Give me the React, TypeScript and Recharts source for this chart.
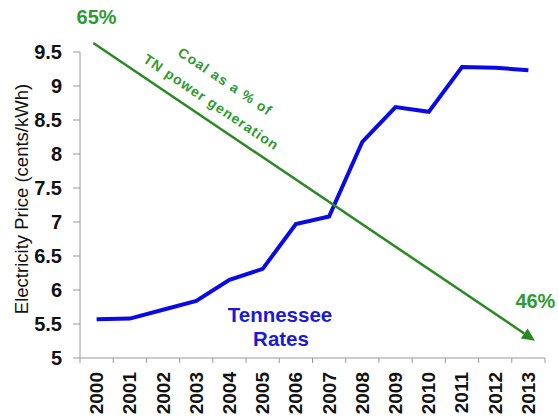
import React from 'react';
import { LineChart, Line, XAxis, YAxis, ReferenceLine } from 'recharts';

const years = ['2000', '2001', '2002', '2003', '2004', '2005', '2006', '2007', '2008', '2009', '2010', '2011', '2012', '2013'];
const tnRates = [5.57, 5.58, 5.71, 5.84, 6.15, 6.31, 6.97, 7.08, 8.18, 8.69, 8.62, 9.28, 9.27, 9.23];
const yTicks = [5, 5.5, 6, 6.5, 7, 7.5, 8, 8.5, 9, 9.5];
const coalYears = ['2000', '2013'];
const coalLabels = ['65%', '46%'];
const coalOnPriceScale = [9.6, 5.32];

const data = years.map((year, i) => ({ year, rate: tnRates[i] }));

const FONT = '"Liberation Sans", Arial, Helvetica, sans-serif';
const AXIS_COLOR = '#9a9a9a';
const BLUE = '#0a0ae6';
const GREEN_LINE = '#2a8a22';
const GREEN_TEXT = '#2f9a2f';
const TICK = 5;

const XTick = (props: any) => {
  const { x, y, payload, index, visibleTicksCount } = props;
  const half = payload && typeof payload.offset === 'number' && payload.offset > 0 ? payload.offset : 16.6;
  const axisY = y - TICK;
  const last = index === (visibleTicksCount ?? years.length) - 1;
  return (
    <g>
      <line x1={x - half} y1={axisY} x2={x - half} y2={axisY + TICK} stroke={AXIS_COLOR} strokeWidth={1} />
      {last && <line x1={x + half} y1={axisY} x2={x + half} y2={axisY + TICK} stroke={AXIS_COLOR} strokeWidth={1} />}
      <text
        x={x}
        y={axisY + 14}
        transform={`rotate(-90, ${x}, ${axisY + 14})`}
        textAnchor="end"
        dominantBaseline="central"
        fontFamily={FONT}
        fontWeight="bold"
        fontSize={19}
        fill="#111"
      >
        {payload.value}
      </text>
    </g>
  );
};

const CoalArrow = (props: any) => {
  const { x1, y1, x2, y2 } = props;
  const dx = x2 - x1;
  const dy = y2 - y1;
  const len = Math.sqrt(dx * dx + dy * dy) || 1;
  const ux = dx / len;
  const uy = dy / len;
  const nx = uy;
  const ny = -ux;
  const sx = x1 - 4 * ux;
  const sy = y1 - 4 * uy;
  const tx = x2 + 8 * ux;
  const ty = y2 + 8 * uy;
  const head = 13;
  const bx = tx - head * ux;
  const by = ty - head * uy;
  const angle = (Math.atan2(dy, dx) * 180) / Math.PI;
  const along = 131;
  const cx = sx + along * ux;
  const cy = sy + along * uy;
  const l1x = cx + 42 * nx;
  const l1y = cy + 42 * ny;
  const l2x = cx + 17 * nx;
  const l2y = cy + 17 * ny;
  return (
    <g>
      <line x1={sx} y1={sy} x2={bx} y2={by} stroke={GREEN_LINE} strokeWidth={2.5} />
      <polygon
        points={`${tx},${ty} ${bx + 6 * nx},${by + 6 * ny} ${bx - 6 * nx},${by - 6 * ny}`}
        fill={GREEN_LINE}
      />
      <text x={x1} y={y1 - 21} textAnchor="middle" fontFamily={FONT} fontWeight="bold" fontSize={20} fill={GREEN_TEXT}>
        {coalLabels[0]}
      </text>
      <text x={x2 + 7} y={y2 - 28} textAnchor="middle" fontFamily={FONT} fontWeight="bold" fontSize={20} fill={GREEN_TEXT}>
        {coalLabels[1]}
      </text>
      <text
        x={l1x}
        y={l1y}
        transform={`rotate(${angle}, ${l1x}, ${l1y})`}
        textAnchor="middle"
        dominantBaseline="central"
        fontFamily={FONT}
        fontWeight="bold"
        fontSize={14}
        letterSpacing={1.1}
        fill={GREEN_TEXT}
      >
        Coal as a % of
      </text>
      <text
        x={l2x}
        y={l2y}
        transform={`rotate(${angle}, ${l2x}, ${l2y})`}
        textAnchor="middle"
        dominantBaseline="central"
        fontFamily={FONT}
        fontWeight="bold"
        fontSize={14}
        letterSpacing={1.1}
        fill={GREEN_TEXT}
      >
        TN power generation
      </text>
    </g>
  );
};

export default function App() {
  return (
    <div style={{ position: 'absolute', left: 0, top: 0, width: 558, height: 416, background: '#fff' }}>
      <LineChart width={558} height={416} data={data} margin={{ top: 52, right: 13, bottom: 0, left: 0 }}>
        <XAxis
          dataKey="year"
          type="category"
          scale="band"
          height={58}
          interval={0}
          tickLine={false}
          tickSize={TICK}
          tickMargin={0}
          axisLine={{ stroke: AXIS_COLOR, strokeWidth: 1 }}
          tick={<XTick />}
        />
        <YAxis
          type="number"
          domain={[5, 9.5]}
          ticks={yTicks}
          interval={0}
          width={80}
          tickSize={7}
          tickMargin={11}
          axisLine={{ stroke: AXIS_COLOR, strokeWidth: 1 }}
          tickLine={{ stroke: AXIS_COLOR, strokeWidth: 1 }}
          tick={{ fontFamily: FONT, fontWeight: 'bold', fontSize: 20, fill: '#111' }}
        />
        <Line
          type="linear"
          dataKey="rate"
          stroke={BLUE}
          strokeWidth={4}
          dot={false}
          activeDot={false}
          isAnimationActive={false}
        />
        <ReferenceLine
          segment={[
            { x: coalYears[0], y: coalOnPriceScale[0] },
            { x: coalYears[1], y: coalOnPriceScale[1] },
          ]}
          ifOverflow="visible"
          shape={CoalArrow}
        />
        <text
          x={21}
          y={199}
          transform="rotate(-90, 21, 199)"
          textAnchor="middle"
          dominantBaseline="central"
          fontFamily={FONT}
          fontSize={18.5}
          fill="#111"
        >
          Electricity Price (cents/kWh)
        </text>
        <text x={280} y={322} textAnchor="middle" fontFamily={FONT} fontWeight="bold" fontSize={20.5} fill="#1a1ad8">
          Tennessee
        </text>
        <text x={281} y={346} textAnchor="middle" fontFamily={FONT} fontWeight="bold" fontSize={20.5} fill="#1a1ad8">
          Rates
        </text>
      </LineChart>
    </div>
  );
}
